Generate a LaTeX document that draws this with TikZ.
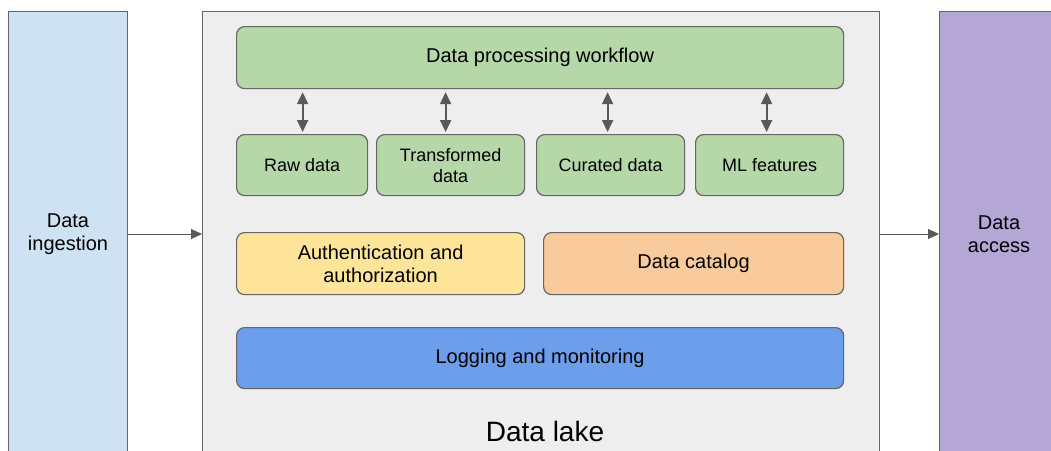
\documentclass[tikz,border=0pt]{standalone}
\usepackage{fontspec}
\setmainfont{Liberation Sans}
\usetikzlibrary{arrows.meta}
\definecolor{edgegray}{HTML}{666666}
\definecolor{arrgray}{HTML}{595959}
\definecolor{ingestblue}{HTML}{CFE2F3}
\definecolor{lakegray}{HTML}{EEEEEE}
\definecolor{accesspurple}{HTML}{B4A7D6}
\definecolor{boxgreen}{HTML}{B6D7A8}
\definecolor{boxyellow}{HTML}{FFE599}
\definecolor{boxorange}{HTML}{F9CB9C}
\definecolor{boxblue}{HTML}{6D9EEB}
\tikzset{
  column/.style={draw=edgegray, line width=1pt, anchor=north west, inner sep=0pt, align=center,
    font=\fontsize{20}{23}\selectfont},
  rbox/.style={draw=edgegray, line width=1.2pt, rounded corners=8pt, anchor=north west,
    inner sep=0pt, align=center, font=\fontsize{20}{23}\selectfont},
  smallbox/.style={rbox, fill=boxgreen, font=\fontsize{18}{21}\selectfont},
  flow/.style={-{Triangle[length=11pt,width=10pt]}, draw=arrgray, line width=1pt, fill=arrgray},
  dbl/.style={{Triangle[length=12pt,width=11pt]}-{Triangle[length=12pt,width=11pt]},
    draw=arrgray, fill=arrgray, line width=2pt, shorten >=2pt, shorten <=3pt}
}
\begin{document}
\begin{tikzpicture}[x=1pt,y=-1pt]
\useasboundingbox (0,0) rectangle (1051,450);
\fill[white] (0,0) rectangle (1051,450);
% columns
\node[column, fill=ingestblue, minimum width=119pt, minimum height=445pt] (ingest) at (8,11) {Data\\ingestion};
\node[column, fill=lakegray, minimum width=677pt, minimum height=445pt] (lake) at (202,11) {};
\node[column, fill=accesspurple, minimum width=130pt, minimum height=445pt] (access) at (939,11) {};
\node[font=\fontsize{20}{23}\selectfont, align=center] (accesstext) at (999,234) {Data\\access};
% inner boxes
\node[rbox, fill=boxgreen, minimum width=607pt, minimum height=62pt] (workflow) at (236,26) {Data processing workflow};
\node[smallbox, minimum width=131pt, minimum height=61pt] (raw) at (236,134) {Raw data};
\node[smallbox, minimum width=148pt, minimum height=61pt] (trans) at (376,134) {Transformed\\data};
\node[smallbox, minimum width=148pt, minimum height=61pt] (cur) at (536,134) {Curated data};
\node[smallbox, minimum width=148pt, minimum height=61pt] (ml) at (695,134) {ML features};
\node[rbox, fill=boxyellow, minimum width=288pt, minimum height=62pt] (auth) at (236,232) {Authentication and\\authorization};
\node[rbox, fill=boxorange, minimum width=300pt, minimum height=62pt] (cat) at (543,232) {Data catalog};
\node[rbox, fill=boxblue, minimum width=607pt, minimum height=61pt] (log) at (236,327) {Logging and monitoring};
\node[font=\fontsize{28}{32}\selectfont] (laketext) at (545,431) {Data lake};
% arrows
\draw[flow] (ingest.east) -- (lake.west);
\draw[flow] (lake.east) -- (access.west);
\coordinate (a1) at ([xshift=0.5pt]raw.north);
\coordinate (a2) at ([xshift=-5pt]trans.north);
\coordinate (a3) at ([xshift=-3pt]cur.north);
\coordinate (a4) at ([xshift=-3pt]ml.north);
\draw[dbl] (workflow.south -| a1) -- (a1);
\draw[dbl] (workflow.south -| a2) -- (a2);
\draw[dbl] (workflow.south -| a3) -- (a3);
\draw[dbl] (workflow.south -| a4) -- (a4);
\end{tikzpicture}
\end{document}
